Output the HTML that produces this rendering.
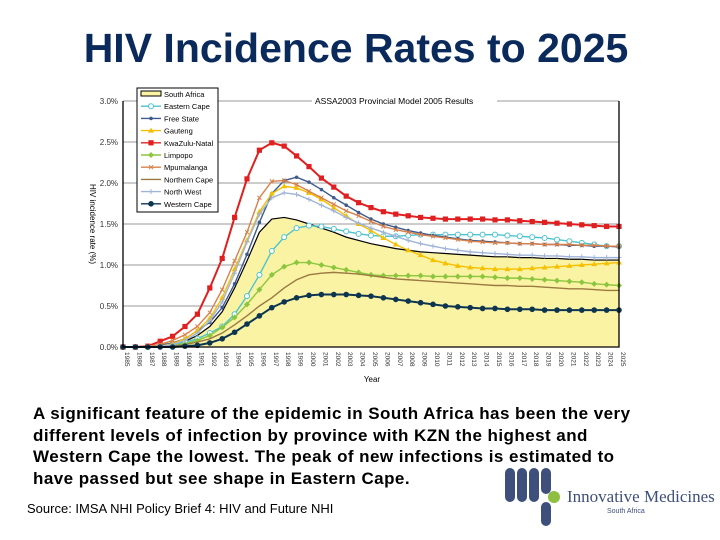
<!DOCTYPE html>
<html><head><meta charset="utf-8"><style>
body{margin:0;width:720px;height:540px;background:#fff;font-family:"Liberation Sans",sans-serif;overflow:hidden;position:relative}
#title{position:absolute;left:0;width:712px;top:25px;text-align:center;font-size:41px;font-weight:bold;color:#0b2a5c}
#desc{position:absolute;left:33px;top:403px;width:612px;font-weight:bold;font-size:17px;letter-spacing:0.45px;line-height:21.5px;color:#000}
#src{position:absolute;left:27px;top:501px;font-size:13px}
</style></head><body>
<div id="title">HIV Incidence Rates to 2025</div>
<svg id="chart" width="720" height="400" style="position:absolute;left:0;top:0"></svg>
<div id="desc">A significant feature of the epidemic in South Africa has been the very different levels of infection by province with KZN the highest and Western Cape the lowest. The peak of new infections is estimated to have passed but see shape in Eastern Cape.</div>
<div id="src">Source: IMSA NHI Policy Brief 4: HIV and Future NHI</div>
<svg width="230" height="75" style="position:absolute;left:495px;top:462px">
<g fill="#3d4f7a"><rect x="10" y="6" width="10" height="34" rx="5"/><rect x="22" y="6" width="10" height="34" rx="5"/><rect x="34" y="6" width="10" height="34" rx="5"/><rect x="46" y="6" width="10" height="26" rx="5"/><rect x="46" y="40" width="10" height="24" rx="5"/></g>
<circle cx="59" cy="35" r="6" fill="#8fbf3f"/>
<text x="72" y="40" font-family="Liberation Serif" font-size="17" fill="#3d4f7a">Innovative Medicines</text>
<text x="112" y="51" font-family="Liberation Sans" font-size="7" fill="#3d4f7a">South Africa</text>
</svg>
<script>
const years=[];for(let y=1985;y<=2025;y++)years.push(y);
const yTicks=[0,0.5,1.0,1.5,2.0,2.5,3.0];
const southAfrica=[0,0,0,0.01,0.03,0.07,0.14,0.25,0.43,0.72,1.05,1.4,1.56,1.58,1.55,1.5,1.45,1.4,1.34,1.3,1.26,1.23,1.2,1.18,1.16,1.15,1.14,1.13,1.12,1.11,1.1,1.1,1.09,1.09,1.08,1.08,1.07,1.07,1.06,1.06,1.06];
const easternCape=[0,0,0,0.01,0.03,0.06,0.1,0.17,0.25,0.4,0.62,0.88,1.17,1.34,1.45,1.48,1.47,1.44,1.41,1.38,1.36,1.35,1.35,1.36,1.37,1.37,1.37,1.37,1.37,1.37,1.37,1.36,1.35,1.34,1.33,1.31,1.29,1.27,1.25,1.23,1.23];
const freeState=[0,0,0,0.02,0.05,0.1,0.2,0.3,0.48,0.77,1.13,1.52,1.87,2.03,2.07,2.01,1.92,1.82,1.73,1.64,1.56,1.5,1.46,1.42,1.39,1.36,1.34,1.32,1.3,1.29,1.28,1.27,1.26,1.26,1.25,1.25,1.24,1.24,1.23,1.23,1.22];
const gauteng=[0,0,0,0.01,0.04,0.1,0.2,0.35,0.6,0.95,1.3,1.65,1.87,1.96,1.94,1.88,1.8,1.7,1.6,1.5,1.42,1.33,1.25,1.18,1.12,1.06,1.02,0.99,0.97,0.96,0.95,0.95,0.95,0.96,0.97,0.98,0.99,1.0,1.01,1.02,1.03];
const kzn=[0,0,0.01,0.07,0.13,0.25,0.4,0.72,1.08,1.58,2.05,2.4,2.49,2.45,2.33,2.2,2.06,1.95,1.84,1.76,1.7,1.65,1.62,1.6,1.58,1.57,1.56,1.56,1.56,1.56,1.55,1.55,1.54,1.53,1.52,1.51,1.5,1.49,1.48,1.47,1.47];
const limpopo=[0,0,0,0.01,0.02,0.04,0.08,0.14,0.24,0.36,0.52,0.7,0.88,0.98,1.03,1.03,1.0,0.97,0.94,0.91,0.88,0.87,0.87,0.87,0.87,0.86,0.86,0.86,0.86,0.86,0.85,0.84,0.84,0.83,0.82,0.81,0.8,0.79,0.77,0.76,0.75];
const mpumalanga=[0,0,0.01,0.03,0.08,0.15,0.25,0.42,0.7,1.05,1.4,1.82,2.02,2.03,1.98,1.9,1.82,1.74,1.66,1.6,1.53,1.47,1.43,1.4,1.37,1.35,1.33,1.31,1.29,1.28,1.27,1.27,1.26,1.26,1.25,1.25,1.25,1.24,1.24,1.23,1.23];
const northernCape=[0,0,0,0,0.01,0.03,0.06,0.1,0.17,0.27,0.38,0.5,0.6,0.72,0.82,0.88,0.9,0.91,0.9,0.89,0.87,0.85,0.83,0.82,0.81,0.8,0.79,0.78,0.77,0.76,0.75,0.75,0.74,0.74,0.73,0.72,0.71,0.71,0.7,0.69,0.69];
const northWest=[0,0,0,0.01,0.03,0.08,0.17,0.32,0.55,0.9,1.28,1.62,1.82,1.88,1.86,1.8,1.73,1.66,1.58,1.51,1.45,1.4,1.35,1.3,1.26,1.23,1.2,1.18,1.16,1.15,1.14,1.13,1.12,1.12,1.11,1.11,1.1,1.1,1.09,1.09,1.09];
const westernCape=[0,0,0,0,0,0.01,0.02,0.05,0.1,0.18,0.28,0.38,0.48,0.55,0.6,0.63,0.64,0.64,0.64,0.63,0.62,0.6,0.58,0.56,0.54,0.52,0.5,0.49,0.48,0.47,0.47,0.46,0.46,0.46,0.45,0.45,0.45,0.45,0.45,0.45,0.45];
const series=[
 {name:'Eastern Cape',d:easternCape,c:'#4cc3cf',m:'ocircle',key:'eastern-cape'},
 {name:'Free State',d:freeState,c:'#3f5a8c',m:'dot',key:'free-state'},
 {name:'Gauteng',d:gauteng,c:'#f5c000',m:'tri',key:'gauteng'},
 {name:'KwaZulu-Natal',d:kzn,c:'#e02020',m:'square',key:'kwazulu-natal'},
 {name:'Limpopo',d:limpopo,c:'#8cc63f',m:'diamond',key:'limpopo'},
 {name:'Mpumalanga',d:mpumalanga,c:'#d8804a',m:'x',key:'mpumalanga'},
 {name:'Northern Cape',d:northernCape,c:'#9a7a40',m:'none',key:'northern-cape'},
 {name:'North West',d:northWest,c:'#a0b4d8',m:'plus',key:'north-west'},
 {name:'Western Cape',d:westernCape,c:'#0e3550',m:'bigdot',key:'western-cape'}];
const X0=123,X1=619,Y0=347,Y1=101;
const xs=i=>X0+(X1-X0)*i/(years.length-1);
const ys=v=>Y0-(Y0-Y1)*v/3;
const svg=document.getElementById('chart');const NS='http://www.w3.org/2000/svg';
function mk(t,a,p){const e=document.createElementNS(NS,t);for(const k in a)e.setAttribute(k,a[k]);(p||svg).appendChild(e);return e;}
yTicks.forEach(t=>{const l=mk('line',{x1:X0,x2:X1,y1:ys(t),y2:ys(t),stroke:'#999','stroke-width':1});

const tx=mk('text',{x:118,y:ys(t)+3,'text-anchor':'end','font-size':8,fill:'#333'});tx.textContent=t.toFixed(1)+'%';
});
let ad='M'+xs(0)+','+ys(0);southAfrica.forEach((v,i)=>ad+='L'+xs(i)+','+ys(v));ad+='L'+xs(years.length-1)+','+ys(0)+'Z';
const ar=mk('path',{d:ad,fill:'#faf3a4',stroke:'none'});
const sl=mk('polyline',{points:southAfrica.map((v,i)=>xs(i)+','+ys(v)).join(' '),fill:'none',stroke:'#000','stroke-width':1.2});

function marker(m,x,y,c,g){
 if(m==='ocircle')mk('circle',{cx:x,cy:y,r:2.5,fill:'#fff',stroke:c,'stroke-width':1},g);
 else if(m==='dot')mk('circle',{cx:x,cy:y,r:1.8,fill:c},g);
 else if(m==='bigdot')mk('circle',{cx:x,cy:y,r:2.8,fill:c},g);
 else if(m==='square')mk('rect',{x:x-2.6,y:y-2.6,width:5.2,height:5.2,fill:c},g);
 else if(m==='tri')mk('polygon',{points:`${x},${y-3} ${x+3},${y+2} ${x-3},${y+2}`,fill:c},g);
 else if(m==='diamond')mk('polygon',{points:`${x},${y-3} ${x+3},${y} ${x},${y+3} ${x-3},${y}`,fill:c},g);
 else if(m==='x'){mk('path',{d:`M${x-2},${y-2}L${x+2},${y+2}M${x-2},${y+2}L${x+2},${y-2}`,stroke:c,'stroke-width':1},g);}
 else if(m==='plus'){mk('path',{d:`M${x-2.5},${y}L${x+2.5},${y}M${x},${y-2.5}L${x},${y+2.5}`,stroke:c,'stroke-width':1},g);}
}
series.forEach(s=>{const g=mk('g',{});
 mk('polyline',{points:s.d.map((v,i)=>xs(i)+','+ys(v)).join(' '),fill:'none',stroke:s.c,'stroke-width':s.key==='kwazulu-natal'||s.key==='western-cape'?2:1.4},g);
 s.d.forEach((v,i)=>marker(s.m,xs(i),ys(v),s.c,g));});
const ax=mk('path',{d:`M${X0},${Y1}V${Y0}H${X1}V${Y1}`,fill:'none',stroke:'#000','stroke-width':1.3});
years.forEach((y,i)=>{const t=mk('text',{x:0,y:0,'font-size':6.5,fill:'#333','text-anchor':'start',transform:`translate(${xs(i)+2},${Y0+5}) rotate(90)`});t.textContent=y;
});
const xt=mk('text',{x:372,y:382,'font-size':8,'text-anchor':'middle'});xt.textContent='Year';
const yt=mk('text',{x:0,y:0,'font-size':8,'text-anchor':'middle',transform:'translate(90,224) rotate(90)'});yt.textContent='HIV incidence rate (%)';
mk('rect',{x:312,y:95,width:185,height:12,fill:'#fff'});
const ct=mk('text',{x:315,y:104,'font-size':8.5,fill:'#000'});ct.textContent='ASSA2003 Provincial Model 2005 Results';
const lg=mk('g',{});
mk('rect',{x:137,y:88,width:81,height:124,fill:'#fff',stroke:'#000','stroke-width':1},lg);
const items=[{name:'South Africa',c:'#000',m:'area'}].concat(series);
items.forEach((s,i)=>{const y=94+i*12.2;const e=mk('g',{},lg);
 if(s.m==='area')mk('rect',{x:141,y:y-3,width:20,height:5,fill:'#faf3a4',stroke:'#000'},e);
 else{mk('line',{x1:141,x2:161,y1:y,y2:y,stroke:s.c,'stroke-width':1.4},e);marker(s.m,151,y,s.c,e);}
 const t=mk('text',{x:164,y:y+3,'font-size':7.5,fill:'#000'},e);t.textContent=s.name;});
</script>
</body></html>
